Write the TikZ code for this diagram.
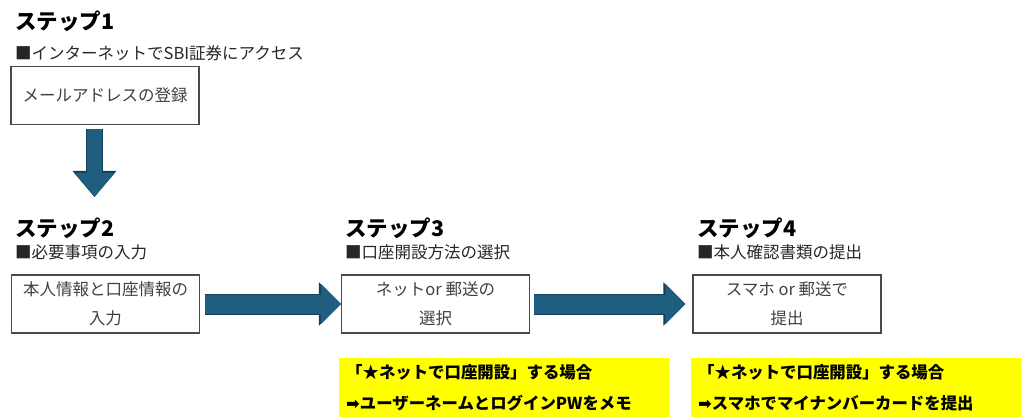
\documentclass[tikz,border=0pt]{standalone}
\usepackage{fontspec}
\setmainfont{Noto Sans CJK JP}
\newfontfamily\symfont{DejaVu Sans}
\usetikzlibrary{arrows.meta, positioning, calc}
\definecolor{arrowblue}{HTML}{1F5E80}
\definecolor{arrowedge}{HTML}{143F57}
\definecolor{notebg}{HTML}{FFFF00}
\definecolor{boxline}{HTML}{4A4A4A}
\definecolor{boxtext}{HTML}{404040}

\begin{document}
\begin{tikzpicture}[
    x=1pt, y=-1pt,
    every node/.style={inner sep=0pt},
    steptitle/.style={anchor=west, font=\fontsize{21.5}{26}\selectfont\bfseries},
    stepsub/.style  ={anchor=west, text=black!85, font=\fontsize{16.5}{18}\selectfont},
    stepbox/.style  ={draw=boxline, line width=1.1pt, align=center, text=boxtext,
                      minimum width=188pt, minimum height=58pt,
                      font=\fontsize{16.5}{29}\selectfont},
    note/.style     ={fill=notebg, anchor=north west, align=left, inner xsep=7pt,
                      text width=316pt, minimum height=59pt,
                      font=\fontsize{16.4}{31}\selectfont\bfseries},
    bigarrow/.style ={line width=19pt, arrowblue, -{Triangle[length=20pt, width=39pt]},
                      preaction={draw=arrowedge, line width=21pt,
                                 -{Triangle[length=22pt, width=42pt]}}},
    downarrow/.style={line width=15pt, arrowblue, -{Triangle[length=24pt, width=39pt]},
                      preaction={draw=arrowedge, line width=17pt,
                                 -{Triangle[length=26pt, width=42pt]}}},
]
\useasboundingbox (0,0) rectangle (1024,419);

\node[steptitle] (title1) at (15,21.5)  {ステップ1};
\node[stepsub]   (sub1)   at (15,53)    {■インターネットでSBI証券にアクセス};
\node[stepbox]   (box1)   at (105,95.5) {メールアドレスの登録};

\node[steptitle] (title2) at (15,228.5)  {ステップ2};
\node[stepsub]   (sub2)   at (15,252.5)  {■必要事項の入力};
\node[stepbox]   (box2)   at (105.5,304) {本人情報と口座情報の\\入力};

\node[steptitle] (title3) at (345,228.5) {ステップ3};
\node[stepsub]   (sub3)   at (345,252.5) {■口座開設方法の選択};
\node[stepbox]   (box3)   at (435.5,304) {ネットor 郵送の\\選択};

\node[steptitle] (title4) at (697,228.5) {ステップ4};
\node[stepsub]   (sub4)   at (697,252.5) {■本人確認書類の提出};
\node[stepbox]   (box4)   at (787,304)   {スマホ or 郵送で\\提出};

\node[note] (note3) at (339,358) {「★ネットで口座開設」する場合\\
                                  {\symfont ➡}ユーザーネームとログインPWをメモ};
\node[note] (note4) at (691,358) {「★ネットで口座開設」する場合\\
                                  {\symfont ➡}スマホでマイナンバーカードを提出};

\coordinate (downtip) at (94.5,197);
\draw[downarrow, shorten <=4pt] (box1.south -| downtip) -- (downtip);
\draw[bigarrow, shorten <=5pt] (box2.east) -- (box3.west);
\draw[bigarrow, shorten <=4pt, shorten >=7pt] (box3.east) -- (box4.west);
\end{tikzpicture}
\end{document}
